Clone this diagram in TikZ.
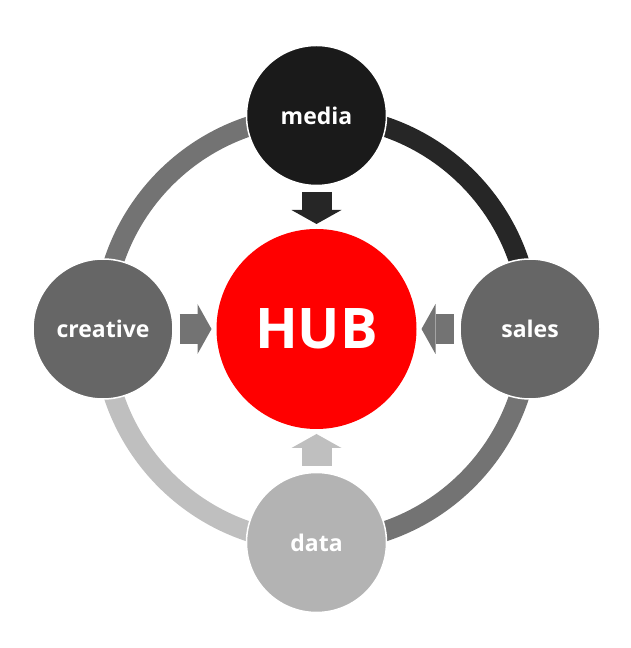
\documentclass[tikz,border=0pt]{standalone}
\usepackage{fontspec}
\setsansfont{Open Sans}
\usetikzlibrary{arrows.meta, positioning, backgrounds}
\definecolor{hubRed}{HTML}{FF0000}
\definecolor{mediaFill}{HTML}{1A1A1A}
\definecolor{mediaTone}{HTML}{262626}
\definecolor{midFill}{HTML}{666666}
\definecolor{midTone}{HTML}{737373}
\definecolor{dataFill}{HTML}{B3B3B3}
\definecolor{dataTone}{HTML}{BFBFBF}
\tikzset{
    hubnode/.style={circle, fill=hubRed, minimum size=200pt, inner sep=0pt, outer sep=0pt, text=white, font=\sffamily\bfseries\fontsize{56}{60}\selectfont},
    spoke/.style={circle, draw=white, line width=1.5pt, minimum size=140pt, inner sep=0pt, outer sep=0pt, text=white, font=\sffamily\bfseries\fontsize{23}{28}\selectfont},
    ringarc/.style={line width=20pt},
    feed/.style={line width=30pt, -{Triangle[length=14pt, width=50pt, line width=0pt]}, shorten <=6.5pt, shorten >=5pt},
}
\begin{document}
\begin{tikzpicture}[x=1pt, y=1pt]
    \useasboundingbox (0,0) rectangle (630,648);
    \node[hubnode] (hub) at (316.5,319) {HUB};
    \node[spoke, fill=mediaFill, above=43.5pt of hub] (media) {media};
    \node[spoke, fill=midFill, right=43.5pt of hub] (sales) {sales};
    \node[spoke, fill=dataFill, below=43.5pt of hub] (data) {data};
    \node[spoke, fill=midFill, left=43.5pt of hub] (creative) {creative};

    % ring behind the circles
    \begin{scope}[on background layer]
        \draw[ringarc, draw=midTone] (creative.center) arc[start angle=180, end angle=90, radius=213.5pt];
        \draw[ringarc, draw=mediaTone] (media.center) arc[start angle=90, end angle=0, radius=213.5pt];
        \draw[ringarc, draw=midTone] (sales.center) arc[start angle=0, end angle=-90, radius=213.5pt];
        \draw[ringarc, draw=dataTone] (data.center) arc[start angle=-90, end angle=-180, radius=213.5pt];
    \end{scope}

    \draw[feed, draw=mediaTone] (media) -- (hub);
    \draw[feed, draw=midTone] (sales) -- (hub);
    \draw[feed, draw=dataTone] (data) -- (hub);
    \draw[feed, draw=midTone] (creative) -- (hub);
\end{tikzpicture}
\end{document}
